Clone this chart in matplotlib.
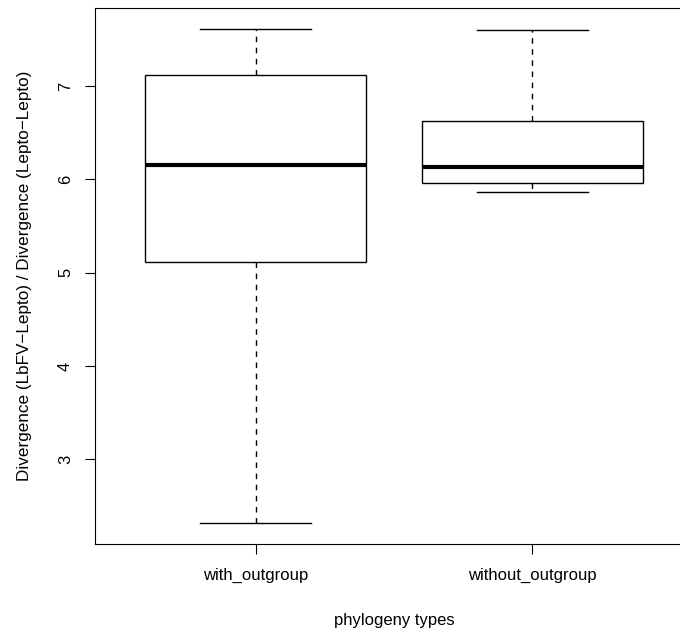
import matplotlib
matplotlib.use("Agg")
import matplotlib.pyplot as plt

plt.rcParams['font.family'] = ['Liberation Sans', 'DejaVu Sans']

# values
groups = ['with_outgroup', 'without_outgroup']
whislo = [2.32, 5.87]
q1 = [5.11, 5.96]
med = [6.15, 6.13]
q3 = [7.12, 6.63]
whishi = [7.61, 7.60]
yticks = [3, 4, 5, 6, 7]

stats = []
for i, g in enumerate(groups):
    stats.append(dict(label=g, whislo=whislo[i], q1=q1[i], med=med[i],
                      q3=q3[i], whishi=whishi[i], fliers=[]))

fig = plt.figure(figsize=(6.8, 6.3), dpi=100)
ax = fig.add_axes([0.140, 0.1365, 0.879, 0.851])

ax.bxp(stats, positions=[1, 2], widths=0.8, showfliers=False,
       patch_artist=True,
       boxprops=dict(facecolor='white', edgecolor='black', linewidth=1),
       medianprops=dict(color='black', linewidth=3, solid_capstyle='butt'),
       whiskerprops=dict(color='black', linewidth=1, linestyle=(0, (4, 4))),
       capprops=dict(color='black', linewidth=1),
       capwidths=0.4)

ax.set_xlim(0.42, 2.58)
ax.set_ylim(2.09, 7.84)
ax.set_yticks(yticks)
ax.set_yticklabels([str(t) for t in yticks], rotation=90, va='center')
ax.tick_params(axis='both', length=7, width=0.8, labelsize=12)
ax.tick_params(axis='y', pad=9)
ax.tick_params(axis='x', pad=10)
for s in ax.spines.values():
    s.set_linewidth(0.8)

ax.set_xlabel('phylogeny types', fontsize=12, labelpad=22)
ax.set_ylabel('Divergence (LbFV\u2212Lepto) / Divergence (Lepto\u2212Lepto)',
              fontsize=12.3, labelpad=19)

fig.savefig('out.png', dpi=100)
